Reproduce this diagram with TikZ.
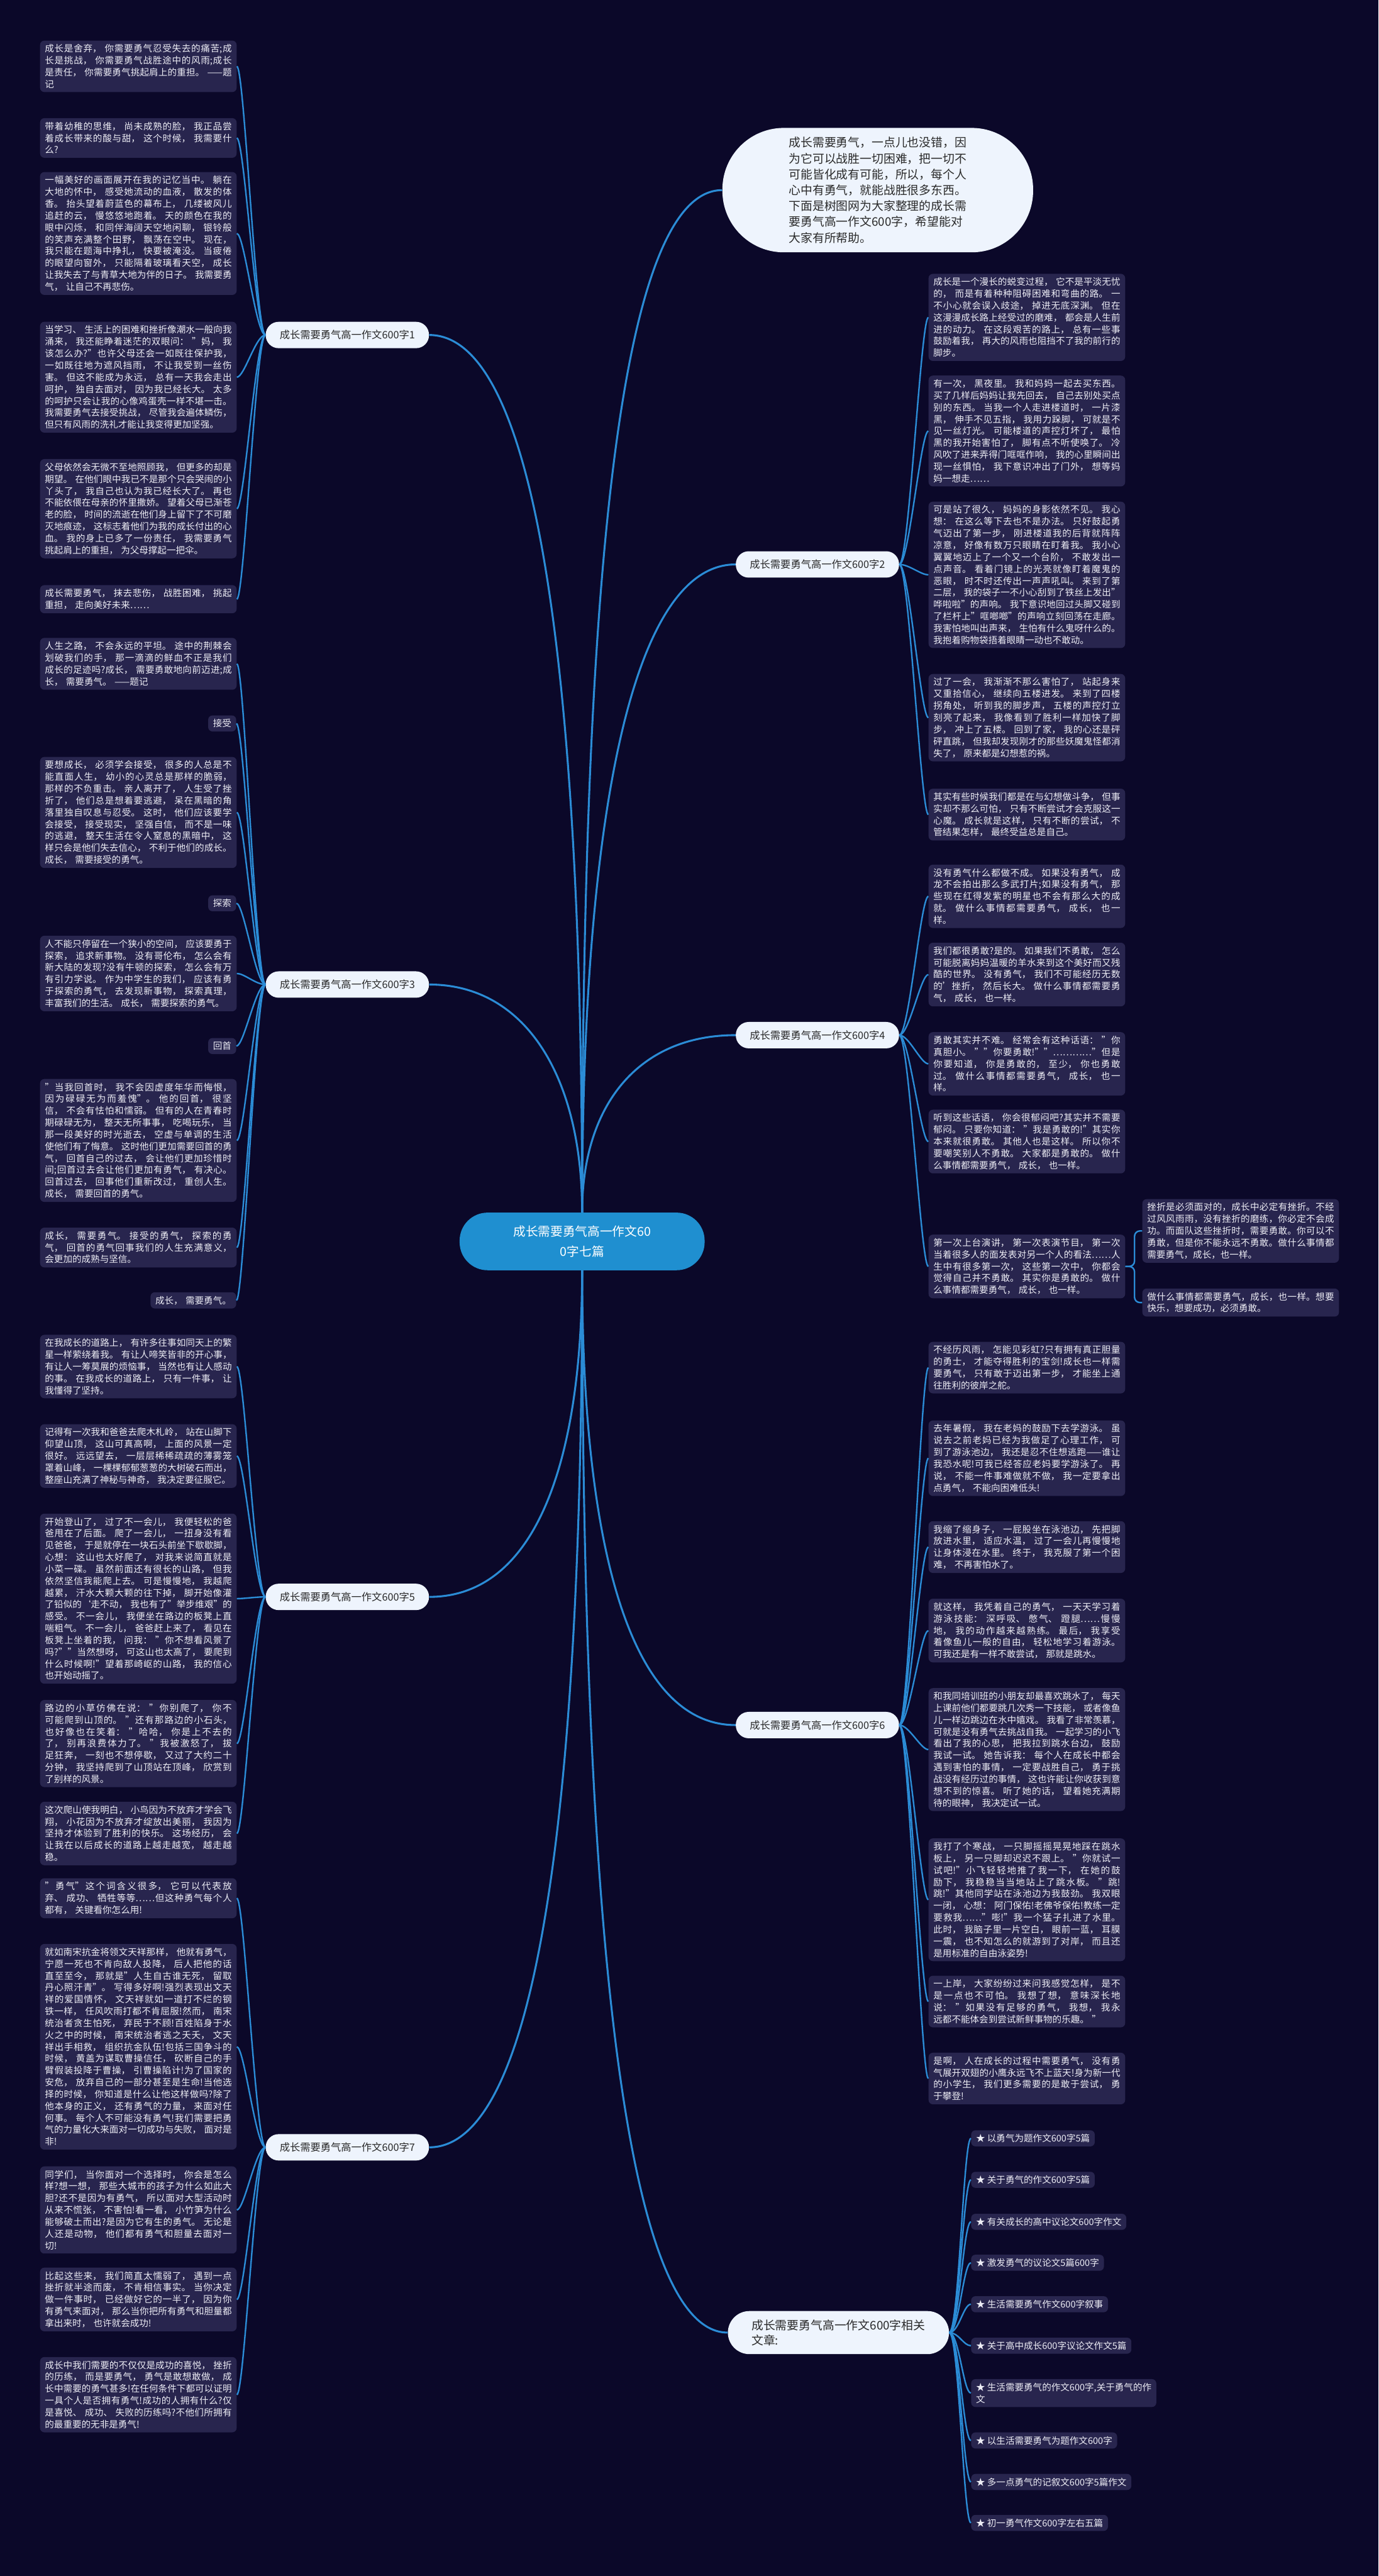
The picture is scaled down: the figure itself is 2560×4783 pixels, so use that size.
\documentclass[tikz,border=0pt]{standalone}
\usepackage{fontspec}
\setmainfont{Noto Sans CJK SC}
\XeTeXlinebreaklocale "zh"
\XeTeXlinebreakskip=0pt plus 1pt
% small gap after CJK punctuation, as in the reference
\newcommand\punctgap{\hskip 0.3em plus 0.1em\relax}
\newcommand\nogap{\let\punctgap\relax}
\catcode`\，=\active \def，{\char"FF0C\punctgap}
\catcode`\。=\active \def。{\char"3002\punctgap}
\catcode`\、=\active \def、{\char"3001\punctgap}
\catcode`\：=\active \def：{\char"FF1A\punctgap}
\definecolor{bgcol}{HTML}{0B0829}
\definecolor{leafbg}{HTML}{28254E}
\definecolor{leaftxt}{HTML}{EDEDF5}
\definecolor{wire}{HTML}{2B8CD6}
\definecolor{hub}{HTML}{1F8FD0}
\definecolor{pill}{HTML}{EEF4FD}
\definecolor{pilltxt}{HTML}{2A2A2A}
\begin{document}
\begin{tikzpicture}[x=0.5pt, y=-0.5pt,
    leaf/.style={fill=leafbg, text=leaftxt, rounded corners=4pt, text width=173.5pt, align=justify,
      inner xsep=4.5pt, inner ysep=3.5pt, font=\fontsize{8.5}{11}\selectfont},
    tag/.style={fill=leafbg, text=leaftxt, rounded corners=4pt, inner xsep=4.5pt, inner ysep=3.5pt,
      font=\fontsize{8.5}{11}\selectfont},
    branch/.style={fill=pill, text=pilltxt, rounded corners=12pt, minimum height=24.5pt,
      inner xsep=13pt, font=\fontsize{9.5}{12}\selectfont},
    twigL/.style={draw=wire, line width=1.4pt, out=180, in=0, out distance=9pt, in distance=7pt},
    twigR/.style={draw=wire, line width=1.4pt, out=0, in=180, out distance=9pt, in distance=7pt},
    trunk/.style={draw=wire, line width=1.8pt}]
    \fill[bgcol] (0,0) rectangle (2560,4783);
    % centre and first level
    \node[fill=hub, text=white, rounded corners=26pt, minimum width=227.5pt, minimum height=53.5pt, align=center,
      font=\fontsize{11.5}{19}\selectfont] (ctr) at (1081,2305) {成长需要勇气高一作文60\\0字七篇};
    \node[fill=pill, text=pilltxt, rounded corners=57pt, minimum width=288.5pt, minimum height=115.5pt, align=left,
      font=\fontsize{11}{14.7}\selectfont\nogap] (intro) at (1630,353)
      {成长需要勇气，一点儿也没错，因\\为它可以战胜一切困难，把一切不\\可能皆化成有可能，所以，每个人\\心中有勇气，就能战胜很多东西。\\下面是树图网为大家整理的成长需\\要勇气高一作文600字，希望能对\\大家有所帮助。};
    \node[branch] (b1) at (645,622) {成长需要勇气高一作文600字1};
    \node[branch] (b2) at (1518,1048) {成长需要勇气高一作文600字2};
    \node[branch] (b3) at (645,1828) {成长需要勇气高一作文600字3};
    \node[branch] (b4) at (1518,1922) {成长需要勇气高一作文600字4};
    \node[branch] (b5) at (645,2965) {成长需要勇气高一作文600字5};
    \node[branch] (b6) at (1518,3203) {成长需要勇气高一作文600字6};
    \node[branch] (b7) at (645,3987) {成长需要勇气高一作文600字7};
    \node[fill=pill, text=pilltxt, rounded corners=20pt, minimum height=40pt, inner xsep=22pt, align=left,
      font=\fontsize{11}{14}\selectfont] (rel) at (1557,4331) {成长需要勇气高一作文600字相关\\文章:};
    % essay 1
    \node[leaf, anchor=north west] (l1a) at (74,75) {成长是舍弃，你需要勇气忍受失去的痛苦;成长是挑战，你需要勇气战胜途中的风雨;成长是责任，你需要勇气挑起肩上的重担。——题记};
    \node[leaf, anchor=north west] (l1b) at (74,219) {带着幼稚的思维，尚未成熟的脸，我正品尝着成长带来的酸与甜，这个时候，我需要什么?};
    \node[leaf, anchor=north west] (l1c) at (74,319) {一幅美好的画面展开在我的记忆当中。躺在大地的怀中，感受她流动的血液，散发的体香。抬头望着蔚蓝色的幕布上，几缕被风儿追赶的云，慢悠悠地跑着。天的颜色在我的眼中闪烁，和同伴海阔天空地闲聊，银铃般的笑声充满整个田野，飘荡在空中。现在，我只能在题海中挣扎，快要被淹没。当疲倦的眼望向窗外，只能隔着玻璃看天空，成长让我失去了与青草大地为伴的日子。我需要勇气，让自己不再悲伤。};
    \node[leaf, anchor=north west] (l1d) at (74,597) {当学习、生活上的困难和挫折像潮水一般向我涌来，我还能睁着迷茫的双眼问："妈，我该怎么办?"也许父母还会一如既往保护我，一如既往地为遮风挡雨，不让我受到一丝伤害。但这不能成为永远，总有一天我会走出呵护，独自去面对，因为我已经长大。太多的呵护只会让我的心像鸡蛋壳一样不堪一击。我需要勇气去接受挑战，尽管我会遍体鳞伤，但只有风雨的洗礼才能让我变得更加坚强。};
    \node[leaf, anchor=north west] (l1e) at (74,852) {父母依然会无微不至地照顾我，但更多的却是期望。在他们眼中我已不是那个只会哭闹的小丫头了，我自己也认为我已经长大了。再也不能依偎在母亲的怀里撒娇。望着父母已渐苍老的脸，时间的流逝在他们身上留下了不可磨灭地痕迹，这标志着他们为我的成长付出的心血。我的身上已多了一份责任，我需要勇气挑起肩上的重担，为父母撑起一把伞。};
    \node[leaf, anchor=north west] (l1f) at (74,1086) {成长需要勇气，抹去悲伤，战胜困难，挑起重担，走向美好未来……};
    % essay 3
    \node[leaf, anchor=north west] (l3a) at (74,1184) {人生之路，不会永远的平坦。途中的荆棘会划破我们的手，那一滴滴的鲜血不正是我们成长的足迹吗?成长，需要勇敢地向前迈进;成长，需要勇气。——题记};
    \node[tag, anchor=north east] (l3b) at (439,1328) {接受};
    \node[leaf, anchor=north west] (l3c) at (74,1405) {要想成长，必须学会接受，很多的人总是不能直面人生，幼小的心灵总是那样的脆弱，那样的不负重击。亲人离开了，人生受了挫折了，他们总是想着要逃避，呆在黑暗的角落里独自叹息与忍受。这时，他们应该要学会接受，接受现实，坚强自信，而不是一味的逃避，整天生活在令人窒息的黑暗中，这样只会是他们失去信心，不利于他们的成长。成长，需要接受的勇气。};
    \node[tag, anchor=north east] (l3d) at (439,1662) {探索};
    \node[leaf, anchor=north west] (l3e) at (74,1737) {人不能只停留在一个狭小的空间，应该要勇于探索，追求新事物。没有哥伦布，怎么会有新大陆的发现?没有牛顿的探索，怎么会有万有引力学说。作为中学生的我们，应该有勇于探索的勇气，去发现新事物，探索真理，丰富我们的生活。成长，需要探索的勇气。};
    \node[tag, anchor=north east] (l3f) at (439,1927) {回首};
    \node[leaf, anchor=north west] (l3g) at (74,2003) {"当我回首时，我不会因虚度年华而悔恨，因为碌碌无为而羞愧"。他的回首，很坚信，不会有怯怕和懦弱。但有的人在青春时期碌碌无为，整天无所事事，吃喝玩乐，当那一段美好的时光逝去，空虚与单调的生活使他们有了悔意。这时他们更加需要回首的勇气，回首自己的过去，会让他们更加珍惜时间;回首过去会让他们更加有勇气，有决心。回首过去，回事他们重新改过，重创人生。成长，需要回首的勇气。};
    \node[leaf, anchor=north west] (l3h) at (74,2279) {成长，需要勇气。接受的勇气，探索的勇气，回首的勇气回事我们的人生充满意义，会更加的成熟与坚信。};
    \node[tag, anchor=north east] (l3i) at (439,2399) {成长，需要勇气。};
    % essay 5
    \node[leaf, anchor=north west] (l5a) at (74,2478) {在我成长的道路上，有许多往事如同天上的繁星一样萦绕着我。有让人啼笑皆非的开心事，有让人一筹莫展的烦恼事，当然也有让人感动的事。在我成长的道路上，只有一件事，让我懂得了坚持。};
    \node[leaf, anchor=north west] (l5b) at (74,2644) {记得有一次我和爸爸去爬木札岭，站在山脚下仰望山顶，这山可真高啊，上面的风景一定很好。远远望去，一层层稀稀疏疏的薄雾笼罩着山峰，一棵棵郁郁葱葱的大树破石而出，整座山充满了神秘与神奇，我决定要征服它。};
    \node[leaf, anchor=north west] (l5c) at (74,2810) {开始登山了，过了不一会儿，我便轻松的爸爸甩在了后面。爬了一会儿，一扭身没有看见爸爸，于是就停在一块石头前坐下歇歇脚，心想：这山也太好爬了，对我来说简直就是小菜一碟。虽然前面还有很长的山路，但我依然坚信我能爬上去。可是慢慢地，我越爬越累，汗水大颗大颗的往下掉，脚开始像灌了铅似的`走不动，我也有了"举步维艰"的感受。不一会儿，我便坐在路边的板凳上直喘粗气。不一会儿，爸爸赶上来了，看见在板凳上坐着的我，问我："你不想看风景了吗?""当然想呀，可这山也太高了，要爬到什么时候啊!"望着那崎岖的山路，我的信心也开始动摇了。};
    \node[leaf, anchor=north west] (l5d) at (74,3156) {路边的小草仿佛在说："你别爬了，你不可能爬到山顶的。"还有那路边的小石头，也好像也在笑着："哈哈，你是上不去的了，别再浪费体力了。"我被激怒了，拔足狂奔，一刻也不想停歇，又过了大约二十分钟，我坚持爬到了山顶站在顶峰，欣赏到了别样的风景。};
    \node[leaf, anchor=north west] (l5e) at (74,3345) {这次爬山使我明白，小鸟因为不放弃才学会飞翔，小花因为不放弃才绽放出美丽，我因为坚持才体验到了胜利的快乐。这场经历，会让我在以后成长的道路上越走越宽，越走越稳。};
    % essay 7
    \node[leaf, anchor=north west] (l7a) at (74,3487) {"勇气"这个词含义很多，它可以代表放弃、成功、牺牲等等……但这种勇气每个人都有，关键看你怎么用!};
    \node[leaf, anchor=north west] (l7b) at (74,3609) {就如南宋抗金将领文天祥那样，他就有勇气，宁愿一死也不肯向敌人投降，后人把他的话直至至今，那就是"人生自古谁无死，留取丹心照汗青"。写得多好啊!强烈表现出文天祥的爱国情怀，文天祥就如一道打不烂的钢铁一样，任风吹雨打都不肯屈服!然而，南宋统治者贪生怕死，弃民于不顾!百姓陷身于水火之中的时候，南宋统治者逃之夭夭，文天祥出手相救，组织抗金队伍!包括三国争斗的时候，黄盖为谋取曹操信任，砍断自己的手臂假装投降于曹操，引曹操陷计!为了国家的安危，放弃自己的一部分甚至是生命!当他选择的时候，你知道是什么让他这样做吗?除了他本身的正义，还有勇气的力量，来面对任何事。每个人不可能没有勇气!我们需要把勇气的力量化大来面对一切成功与失败，面对是非!};
    \node[leaf, anchor=north west] (l7c) at (74,4022) {同学们，当你面对一个选择时，你会是怎么样?想一想，那些大城市的孩子为什么如此大胆?还不是因为有勇气，所以面对大型活动时从来不慌张，不害怕!看一看，小竹笋为什么能够破土而出?是因为它有生的勇气。无论是人还是动物，他们都有勇气和胆量去面对一切!};
    \node[leaf, anchor=north west] (l7d) at (74,4210) {比起这些来，我们简直太懦弱了，遇到一点挫折就半途而废，不肯相信事实。当你决定做一件事时，已经做好它的一半了，因为你有勇气来面对，那么当你把所有勇气和胆量都拿出来时，也许就会成功!};
    \node[leaf, anchor=north west] (l7e) at (74,4376) {成长中我们需要的不仅仅是成功的喜悦，挫折的历练，而是要勇气，勇气是敢想敢做，成长中需要的勇气甚多!在任何条件下都可以证明一具个人是否拥有勇气!成功的人拥有什么?仅是喜悦、成功、失败的历练吗?不他们所拥有的最重要的无非是勇气!};
    % essay 2
    \node[leaf, anchor=north west] (r2a) at (1724,508) {成长是一个漫长的蜕变过程，它不是平淡无忧的，而是有着种种阻碍困难和弯曲的路。一不小心就会误入歧途，掉进无底深渊。但在这漫漫成长路上经受过的磨难，都会是人生前进的动力。在这段艰苦的路上，总有一些事鼓励着我，再大的风雨也阻挡不了我的前行的脚步。};
    \node[leaf, anchor=north west] (r2b) at (1724,697) {有一次，黑夜里。我和妈妈一起去买东西。买了几样后妈妈让我先回去，自己去别处买点别的东西。当我一个人走进楼道时，一片漆黑，伸手不见五指，我用力跺脚，可就是不见一丝灯光。可能楼道的声控灯坏了，最怕黑的我开始害怕了，脚有点不听使唤了。冷风吹了进来弄得门哐哐作响，我的心里瞬间出现一丝惧怕，我下意识冲出了门外，想等妈妈一想走……};
    \node[leaf, anchor=north west] (r2c) at (1724,931) {可是站了很久，妈妈的身影依然不见。我心想：在这么等下去也不是办法。只好鼓起勇气迈出了第一步，刚进楼道我的后背就阵阵凉意，好像有数万只眼睛在盯着我。我小心翼翼地迈上了一个又一个台阶，不敢发出一点声音。看着门镜上的光亮就像盯着魔鬼的恶眼，时不时还传出一声声吼叫。来到了第二层，我的袋子一不小心刮到了铁丝上发出"哗啦啦"的声响。我下意识地回过头脚又碰到了栏杆上"哐啷啷"的声响立刻回荡在走廊。我害怕地叫出声来，生怕有什么鬼呀什么的。我抱着购物袋捂着眼睛一动也不敢动。};
    \node[leaf, anchor=north west] (r2d) at (1724,1251) {过了一会，我渐渐不那么害怕了，站起身来又重拾信心，继续向五楼进发。来到了四楼拐角处，听到我的脚步声，五楼的声控灯立刻亮了起来，我像看到了胜利一样加快了脚步，冲上了五楼。回到了家，我的心还是砰砰直跳，但我却发现刚才的那些妖魔鬼怪都消失了，原来都是幻想惹的祸。};
    \node[leaf, anchor=north west] (r2e) at (1724,1464) {其实有些时候我们都是在与幻想做斗争，但事实却不那么可怕，只有不断尝试才会克服这一心魔。成长就是这样，只有不断的尝试，不管结果怎样，最终受益总是自己。};
    % essay 4
    \node[leaf, anchor=north west] (r4a) at (1724,1605) {没有勇气什么都做不成。如果没有勇气，成龙不会拍出那么多武打片;如果没有勇气，那些现在红得发紫的明星也不会有那么大的成就。做什么事情都需要勇气，成长，也一样。};
    \node[leaf, anchor=north west] (r4b) at (1724,1750) {我们都很勇敢?是的。如果我们不勇敢，怎么可能脱离妈妈温暖的羊水来到这个美好而又残酷的世界。没有勇气，我们不可能经历无数的'挫折，然后长大。做什么事情都需要勇气，成长，也一样。};
    \node[leaf, anchor=north west] (r4c) at (1724,1916) {勇敢其实并不难。经常会有这种话语："你真胆小。""你要勇敢!""…………"但是你要知道，你是勇敢的，至少，你也勇敢过。做什么事情都需要勇气，成长，也一样。};
    \node[leaf, anchor=north west] (r4d) at (1724,2060) {听到这些话语，你会很郁闷吧?其实并不需要郁闷。只要你知道："我是勇敢的!"其实你本来就很勇敢。其他人也是这样。所以你不要嘲笑别人不勇敢。大家都是勇敢的。做什么事情都需要勇气，成长，也一样。};
    \node[leaf, anchor=north west] (r4e) at (1724,2292) {第一次上台演讲，第一次表演节目，第一次当着很多人的面发表对另一个人的看法……人生中有很多第一次，这些第一次中，你都会觉得自己并不勇敢。其实你是勇敢的。做什么事情都需要勇气，成长，也一样。};
    \node[leaf, anchor=north west, font=\fontsize{8.5}{11}\selectfont\nogap] (r4x) at (2121,2226) {挫折是必须面对的，成长中必定有挫折。不经过风风雨雨，没有挫折的磨练，你必定不会成功。而面队这些挫折时，需要勇敢。你可以不勇敢，但是你不能永远不勇敢。做什么事情都需要勇气，成长，也一样。};
    \node[leaf, anchor=north west, font=\fontsize{8.5}{11}\selectfont\nogap] (r4y) at (2121,2392) {做什么事情都需要勇气，成长，也一样。想要快乐，想要成功，必须勇敢。};
    % essay 6
    \node[leaf, anchor=north west] (r6a) at (1724,2491) {不经历风雨，怎能见彩虹?只有拥有真正胆量的勇士，才能夺得胜利的宝剑!成长也一样需要勇气，只有敢于迈出第一步，才能坐上通往胜利的彼岸之舵。};
    \node[leaf, anchor=north west] (r6b) at (1724,2637) {去年暑假，我在老妈的鼓励下去学游泳。虽说去之前老妈已经为我做足了心理工作，可到了游泳池边，我还是忍不住想逃跑——谁让我恐水呢!可我已经答应老妈要学游泳了。再说，不能一件事难做就不做，我一定要拿出点勇气，不能向困难低头!};
    \node[leaf, anchor=north west] (r6c) at (1724,2824) {我缩了缩身子，一屁股坐在泳池边，先把脚放进水里，适应水温，过了一会儿再慢慢地让身体浸在水里。终于，我克服了第一个困难，不再害怕水了。};
    \node[leaf, anchor=north west] (r6d) at (1724,2968) {就这样，我凭着自己的勇气，一天天学习着游泳技能：深呼吸、憋气、蹬腿……慢慢地，我的动作越来越熟练。最后，我享受着像鱼儿一般的自由，轻松地学习着游泳。可我还是有一样不敢尝试，那就是跳水。};
    \node[leaf, anchor=north west] (r6e) at (1724,3134) {和我同培训班的小朋友却最喜欢跳水了，每天上课前他们都要跳几次秀一下技能，或者像鱼儿一样边跳边在水中嬉戏。我看了非常羡慕，可就是没有勇气去挑战自我。一起学习的小飞看出了我的心思，把我拉到跳水台边，鼓励我试一试。她告诉我：每个人在成长中都会遇到害怕的事情，一定要战胜自己，勇于挑战没有经历过的事情，这也许能让你收获到意想不到的惊喜。听了她的话，望着她充满期待的眼神，我决定试一试。};
    \node[leaf, anchor=north west] (r6f) at (1724,3413) {我打了个寒战，一只脚摇摇晃晃地踩在跳水板上，另一只脚却迟迟不跟上。"你就试一试吧!"小飞轻轻地推了我一下，在她的鼓励下，我稳稳当当地站上了跳水板。"跳!跳!"其他同学站在泳池边为我鼓劲。我双眼一闭，心想：阿门保佑!老佛爷保佑!教练一定要救我……"嘭!"我一个猛子扎进了水里。此时，我脑子里一片空白，眼前一蓝，耳膜一震，也不知怎么的就游到了对岸，而且还是用标准的自由泳姿势!};
    \node[leaf, anchor=north west] (r6g) at (1724,3668) {一上岸，大家纷纷过来问我感觉怎样，是不是一点也不可怕。我想了想，意味深长地说："如果没有足够的勇气，我想，我永远都不能体会到尝试新鲜事物的乐趣。"};
    \node[leaf, anchor=north west] (r6h) at (1724,3811) {是啊，人在成长的过程中需要勇气，没有勇气展开双翅的小鹰永远飞不上蓝天!身为新一代的小学生，我们更多需要的是敢于尝试，勇于攀登!};
    % related articles
    \node[tag, anchor=north west] (k1) at (1803,3955) {★ 以勇气为题作文600字5篇};
    \node[tag, anchor=north west] (k2) at (1803,4032) {★ 关于勇气的作文600字5篇};
    \node[tag, anchor=north west] (k3) at (1803,4110) {★ 有关成长的高中议论文600字作文};
    \node[tag, anchor=north west] (k4) at (1803,4186) {★ 激发勇气的议论文5篇600字};
    \node[tag, anchor=north west] (k5) at (1803,4263) {★ 生活需要勇气作文600字叙事};
    \node[tag, anchor=north west] (k6) at (1803,4340) {★ 关于高中成长600字议论文作文5篇};
    \node[tag, anchor=north west, align=left] (k7) at (1803,4417) {★ 生活需要勇气的作文600字,关于勇气的作\\文};
    \node[tag, anchor=north west] (k8) at (1803,4516) {★ 以生活需要勇气为题作文600字};
    \node[tag, anchor=north west] (k9) at (1803,4593) {★ 多一点勇气的记叙文600字5篇作文};
    \node[tag, anchor=north west] (k10) at (1803,4669) {★ 初一勇气作文600字左右五篇};
    % trunk connectors
    \path (ctr) edge[trunk, out=90, in=180, out distance=550pt, in distance=100pt] (intro);
    \path (ctr) edge[trunk, out=90, in=0, out distance=500pt, in distance=100pt] (b1);
    \path (ctr) edge[trunk, out=90, in=180, out distance=350pt, in distance=100pt] (b2);
    \path (ctr) edge[trunk, out=90, in=0, out distance=125pt, in distance=90pt] (b3);
    \path (ctr) edge[trunk, out=90, in=180, out distance=100pt, in distance=90pt] (b4);
    \path (ctr) edge[trunk, out=270, in=0, out distance=175pt, in distance=100pt] (b5);
    \path (ctr) edge[trunk, out=270, in=180, out distance=250pt, in distance=100pt] (b6);
    \path (ctr) edge[trunk, out=270, in=0, out distance=500pt, in distance=100pt] (b7);
    \path (ctr) edge[trunk, out=270, in=180, out distance=575pt, in distance=100pt] (rel);
    % leaf connectors
    \path (b1) edge[twigL] (l1a);
    \path (b1) edge[twigL] (l1b);
    \path (b1) edge[twigL] (l1c);
    \path (b1) edge[twigL] (l1d);
    \path (b1) edge[twigL] (l1e);
    \path (b1) edge[twigL] (l1f);
    \path (b3) edge[twigL] (l3a);
    \path (b3) edge[twigL] (l3b);
    \path (b3) edge[twigL] (l3c);
    \path (b3) edge[twigL] (l3d);
    \path (b3) edge[twigL] (l3e);
    \path (b3) edge[twigL] (l3f);
    \path (b3) edge[twigL] (l3g);
    \path (b3) edge[twigL] (l3h);
    \path (b3) edge[twigL] (l3i);
    \path (b5) edge[twigL] (l5a);
    \path (b5) edge[twigL] (l5b);
    \path (b5) edge[twigL] (l5c);
    \path (b5) edge[twigL] (l5d);
    \path (b5) edge[twigL] (l5e);
    \path (b7) edge[twigL] (l7a);
    \path (b7) edge[twigL] (l7b);
    \path (b7) edge[twigL] (l7c);
    \path (b7) edge[twigL] (l7d);
    \path (b7) edge[twigL] (l7e);
    \path (b2) edge[twigR] (r2a);
    \path (b2) edge[twigR] (r2b);
    \path (b2) edge[twigR] (r2c);
    \path (b2) edge[twigR] (r2d);
    \path (b2) edge[twigR] (r2e);
    \path (b4) edge[twigR] (r4a);
    \path (b4) edge[twigR] (r4b);
    \path (b4) edge[twigR] (r4c);
    \path (b4) edge[twigR] (r4d);
    \path (b4) edge[twigR] (r4e);
    \draw[wire, line width=1.4pt, rounded corners=5pt] (r4e.east) -- ++(17,0) |- (r4x.west);
    \draw[wire, line width=1.4pt, rounded corners=5pt] (r4e.east) -- ++(17,0) |- (r4y.west);
    \path (b6) edge[twigR] (r6a);
    \path (b6) edge[twigR] (r6b);
    \path (b6) edge[twigR] (r6c);
    \path (b6) edge[twigR] (r6d);
    \path (b6) edge[twigR] (r6e);
    \path (b6) edge[twigR] (r6f);
    \path (b6) edge[twigR] (r6g);
    \path (b6) edge[twigR] (r6h);
    \path (rel) edge[twigR] (k1);
    \path (rel) edge[twigR] (k2);
    \path (rel) edge[twigR] (k3);
    \path (rel) edge[twigR] (k4);
    \path (rel) edge[twigR] (k5);
    \path (rel) edge[twigR] (k6);
    \path (rel) edge[twigR] (k7);
    \path (rel) edge[twigR] (k8);
    \path (rel) edge[twigR] (k9);
    \path (rel) edge[twigR] (k10);
\end{tikzpicture}
\end{document}
